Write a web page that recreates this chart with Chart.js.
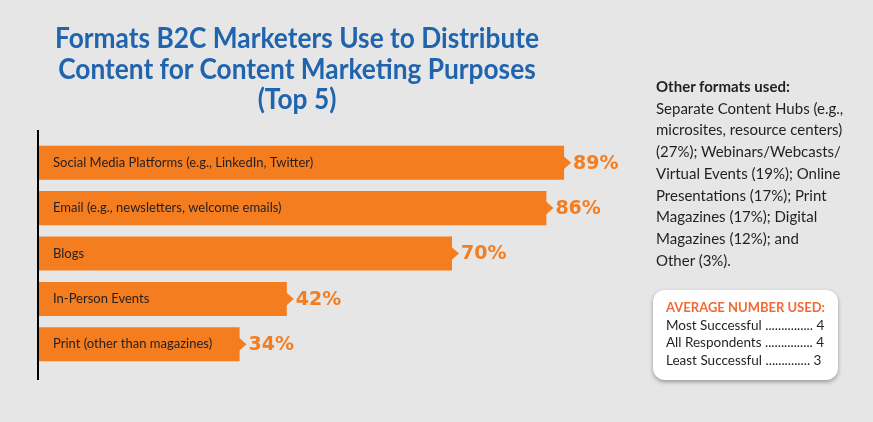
<!DOCTYPE html>
<html>
<head>
<meta charset="utf-8">
<script src="https://cdn.jsdelivr.net/npm/chart.js@4.4.0/dist/chart.umd.min.js"></script>
<style>
  body { margin: 0; background: #e6e6e6; width: 873px; height: 422px; overflow: hidden; position: relative; font-family: Lato, sans-serif; color: #231f20; }
  #chartBox { position: absolute; left: 0; top: 0; width: 873px; height: 422px; }
  #title { position: absolute; left: 0; top: 22px; width: 594px; text-align: center; color: #2064ae; font-weight: bold; font-size: 29px; line-height: 30.5px; }
  #title div { white-space: nowrap; }
  #other { position: absolute; left: 656px; top: 76px; font-size: 15px; line-height: 21.7px; }
  #other b { font-weight: bold; }
  #avg { position: absolute; left: 653px; top: 290px; width: 185px; height: 90px; background: #fff; border-radius: 12px; box-shadow: 0 2px 4px rgba(0,0,0,0.35); box-sizing: border-box; padding: 9px 0 0 13px; font-size: 13.5px; line-height: 17.5px; }
  #avg .hd { color: #f26a36; font-weight: bold; font-size: 13px; }
</style>
</head>
<body>
<div id="chartBox"><canvas id="chart"></canvas></div>
<div id="title">
  <div><span>Formats B2C Marketers Use to Distribute</span></div>
  <div><span>Content for Content Marketing Purposes</span></div>
  <div><span>(Top 5)</span></div>
</div>
<div id="other">
  <b>Other formats used:</b><br>
  Separate Content Hubs (e.g.,<br>
  microsites, resource centers)<br>
  (27%); Webinars/Webcasts/<br>
  Virtual Events (19%); Online<br>
  Presentations (17%); Print<br>
  Magazines (17%); Digital<br>
  Magazines (12%); and<br>
  Other (3%).
</div>
<div id="avg">
  <div class="hd">AVERAGE NUMBER USED:</div>
  <div>Most Successful ............... 4</div>
  <div>All Respondents ............... 4</div>
  <div>Least Successful .............. 3</div>
</div>
<script>
  // chart data
  const categories = [
    "Social Media Platforms (e.g., LinkedIn, Twitter)",
    "Email (e.g., newsletters, welcome emails)",
    "Blogs",
    "In-Person Events",
    "Print (other than magazines)"
  ];
  const values = [89, 86, 70, 42, 34];
  const barColor = "#f47d20";

  // squeeze title lines to the width used in the original
  const titleEl = document.getElementById("title");
  const firstSpan = titleEl.querySelector("span");
  const scale = 484 / firstSpan.getBoundingClientRect().width;
  titleEl.style.transformOrigin = "297px 0";
  titleEl.style.transform = "scaleX(" + scale + ")";

  // arrow tips, labels inside bars, value labels and left axis line
  const barDecor = {
    id: "barDecor",
    afterDatasetsDraw(chart) {
      const ctx = chart.ctx;
      const area = chart.chartArea;
      const meta = chart.getDatasetMeta(0);
      ctx.save();
      // axis line
      ctx.strokeStyle = "#000";
      ctx.lineWidth = 2;
      ctx.beginPath();
      ctx.moveTo(area.left - 1, area.top - 10);
      ctx.lineTo(area.left - 1, area.bottom + 13);
      ctx.stroke();

      meta.data.forEach(function(bar, i) {
        // arrow tip
        ctx.fillStyle = barColor;
        ctx.beginPath();
        ctx.moveTo(bar.x - 1, bar.y - 7);
        ctx.lineTo(bar.x + 7, bar.y);
        ctx.lineTo(bar.x - 1, bar.y + 7);
        ctx.closePath();
        ctx.fill();

        // category label
        ctx.fillStyle = "#231f20";
        ctx.font = "13px Lato";
        ctx.textAlign = "left";
        ctx.textBaseline = "middle";
        ctx.fillText(categories[i], area.left + 14, bar.y);

        // value label
        ctx.fillStyle = barColor;
        ctx.font = "bold 19px 'DejaVu Sans'";
        ctx.fillText(values[i] + "%", bar.x + 9, bar.y + 1);
      });
      ctx.restore();
    }
  };

  new Chart(document.getElementById("chart"), {
    type: "bar",
    data: {
      labels: categories,
      datasets: [{
        data: values,
        backgroundColor: barColor,
        borderWidth: 0,
        categoryPercentage: 1,
        barPercentage: 0.75
      }]
    },
    options: {
      indexAxis: "y",
      responsive: true,
      maintainAspectRatio: false,
      animation: false,
      layout: { padding: { left: 39, right: 244, top: 140, bottom: 55 } },
      scales: {
        x: { display: false, min: 0, max: 100 },
        y: { display: false }
      },
      plugins: {
        legend: { display: false },
        tooltip: { enabled: false }
      }
    },
    plugins: [barDecor]
  });
</script>
</body>
</html>
